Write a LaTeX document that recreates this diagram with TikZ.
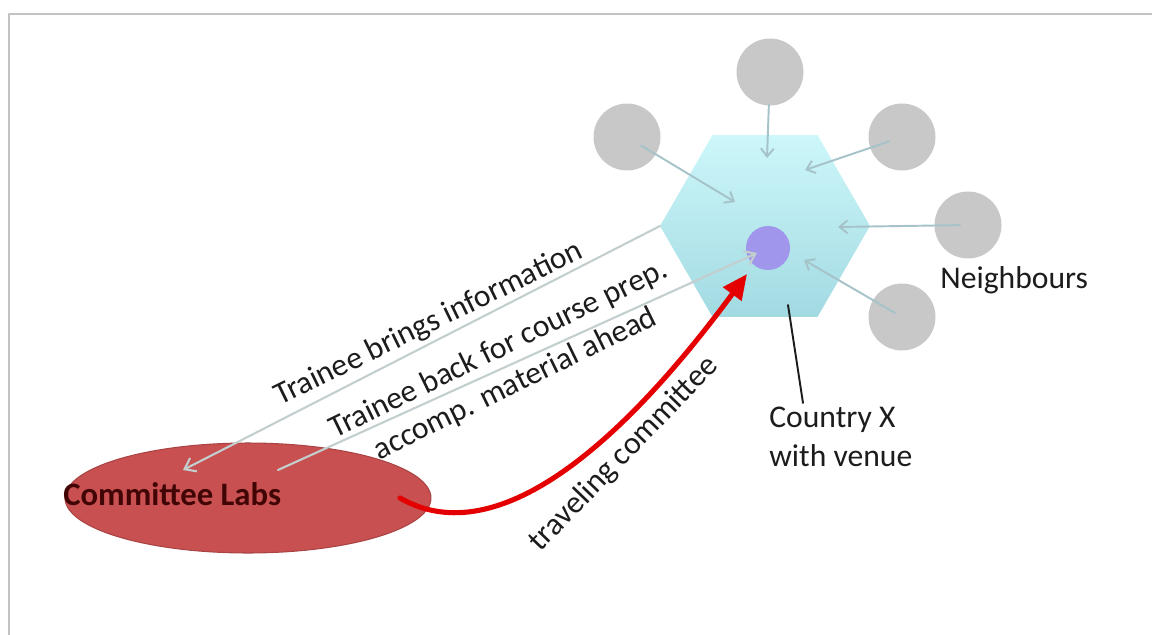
\documentclass[tikz,border=0pt]{standalone}
\usepackage{fontspec}
\setmainfont{Carlito}
\usepackage{tikz}
\usetikzlibrary{arrows.meta,shapes.geometric}
\usepackage{xcolor}
\definecolor{labred}{RGB}{200,80,80}
\definecolor{labtext}{RGB}{65,5,5}
\definecolor{hextop}{RGB}{205,247,250}
\definecolor{hexbot}{RGB}{162,218,226}
\definecolor{venuepurple}{RGB}{160,150,235}
\definecolor{nbgray}{RGB}{200,200,200}
\definecolor{nbline}{RGB}{165,195,200}
\definecolor{trline}{RGB}{195,206,206}
\definecolor{travelred}{RGB}{228,0,0}
\definecolor{framegray}{RGB}{195,195,195}
\definecolor{lbltext}{RGB}{28,28,28}

\begin{document}
\begin{tikzpicture}[
    x=0.02cm,
    y=-0.02cm,
    line cap=round,
    line join=round,
    font=\fontsize{18}{22}\selectfont,
    nb/.style={circle, fill=nbgray, minimum size=1.34cm, inner sep=0pt},
    nbarrow/.style={draw=nbline, line width=1.1pt, -{Straight Barb[length=1.6mm,width=2.6mm]}},
    trainee/.style={draw=trline, line width=1.2pt, -{Straight Barb[length=2mm,width=3mm]}},
    travel/.style={draw=travelred, line width=2.9pt, -{Triangle[length=5mm,width=4.4mm]}},
    lbl/.style={inner sep=0pt, text=lbltext},
  ]

  \useasboundingbox (0,0) rectangle (1152,635);

  % Frame (top and left edge only)
  \draw[framegray, line width=1.7pt, line cap=butt] (9,635) -- (9,14) -- (1152,14);

  % Committee Labs
  \node[ellipse, fill=labred, draw=labred!85!black, line width=0.6pt, minimum width=7.32cm, minimum height=2.2cm, inner sep=0pt] (labs) at (248,498) {};
  \node[anchor=base west, inner sep=0pt, text=labtext, font=\fontsize{18.6}{22}\selectfont\bfseries] (labsname) at (63,505) {Committee Labs};

  % Country X with venue
  \node[regular polygon, regular polygon sides=6, minimum size=4.2cm, inner sep=0pt, outer sep=0pt, top color=hextop, bottom color=hexbot] (country) at (765,226) {};
  \node[circle, fill=venuepurple, minimum size=0.88cm, inner sep=0pt] (venue) at (768,248) {};

  % Neighbours
  \node[nb] (nbtop) at (770,72) {};
  \node[nb] (nbul) at (627,137) {};
  \node[nb] (nbur) at (902,137) {};
  \node[nb] (nbr) at (968,225) {};
  \node[nb] (nblr) at (902,317) {};

  \coordinate (intop) at (767,158);
  \coordinate (inul) at (735,202);
  \coordinate (inur) at (805,170);
  \coordinate (inr) at (838,227);
  \coordinate (inlr) at (804,260);

  \foreach \from/\to/\cut in {nbtop/intop/0.66cm, nbul/inul/0.33cm, nbur/inur/0.27cm, nbr/inr/0.16cm, nblr/inlr/0.16cm}
    \draw[nbarrow, shorten <=\cut] (\from.center) -- (\to);

  % Trainee lines
  \coordinate (infoend) at (183,470);
  \coordinate (backstart) at (278,470);
  \coordinate (backend) at (757,253);
  \draw[trainee] (country.west) -- (infoend);
  \draw[trainee] (backstart) -- (backend);

  % Traveling committee
  \coordinate (travstart) at (400,498);
  \coordinate (travend) at (747,274);
  \draw[travel] (travstart) .. controls (490,550) and (610,460) .. (travend);

  % Labels
  \node[lbl, rotate=26] (infolbl) at (429,324) {Trainee brings information};
  \node[lbl, rotate=26, align=center] (backlbl) at (507,367) {Trainee back for course prep.\\accomp. material ahead};
  \node[lbl, rotate=46] (travlbl) at (624,454) {traveling committee};
  \node[lbl, anchor=base west] (nblbl) at (940,288) {Neighbours};
  \node[lbl, anchor=west, align=left] (countrylbl) at (769,437) {Country X\\with venue};

  \coordinate (ptrtop) at (788,305);
  \coordinate (ptrend) at (803,403);
  \draw[lbltext, line width=1.1pt] (ptrtop) -- (ptrend);
\end{tikzpicture}
\end{document}
